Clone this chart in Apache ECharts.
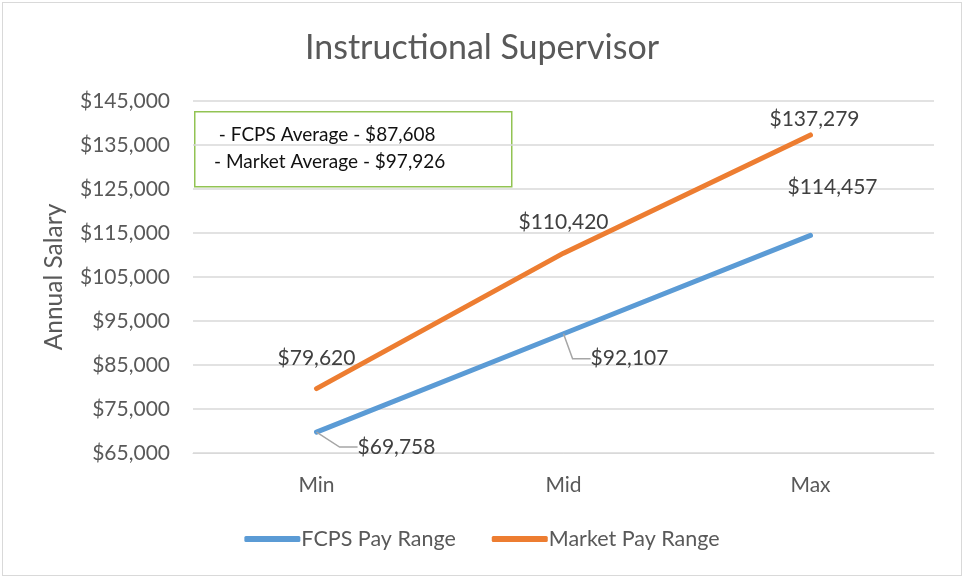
<!DOCTYPE html>
<html>
<head>
<meta charset="utf-8">
<script src="https://cdn.jsdelivr.net/npm/echarts@6/dist/echarts.min.js"></script>
<style>
  html, body { margin: 0; padding: 0; background: #fff; }
  #chart { position: absolute; left: 2px; top: 2px; width: 958px; height: 572px; border: 1px solid #d9d9d9; }
</style>
</head>
<body>
<div id="chart"></div>
<script>
const categories = ['Min', 'Mid', 'Max']
const fcpsValues = [69758, 92107, 114457]
const marketValues = [79620, 110420, 137279]
const fcpsAverage = 87608
const marketAverage = 97926

const blue = '#5B9BD5'
const orange = '#ED7D31'
const grey = '#595959'
const font = 'Lato, "Open Sans", sans-serif'

const money = v => '$' + v.toLocaleString('en-US')

// label nudges in px (dx, dy from the point)
const fcpsLabelShift = [[80, 15], [66, 25], [22, -48]]
const marketLabelShift = [[0, -30], [0, -31], [4, -16]]
// which fcps labels get a leader line
const fcpsLeader = [true, true, false]

const chart = echarts.init(document.getElementById('chart'))
chart.setOption({
  animation: false,
  textStyle: { fontFamily: font, color: grey },
  title: {
    text: 'Instructional Supervisor',
    left: 'center',
    top: 23,
    textStyle: { fontFamily: font, fontSize: 34, fontWeight: 'normal', color: grey },
  },
  grid: { left: 190, right: 27, top: 98, bottom: 122 },
  legend: {
    bottom: 20,
    left: 'center',
    icon: 'roundRect',
    itemWidth: 56,
    itemHeight: 6,
    itemGap: 36,
    textStyle: { fontFamily: font, fontSize: 21.5, color: grey, padding: [0, 0, 0, -4] },
    data: ['FCPS Pay Range', 'Market Pay Range'],
  },
  xAxis: {
    type: 'category',
    data: categories,
    axisLine: { lineStyle: { color: '#d9d9d9' } },
    axisTick: { show: false },
    axisLabel: { fontSize: 21, color: grey, margin: 22, fontFamily: font },
  },
  yAxis: {
    type: 'value',
    name: 'Annual Salary',
    nameLocation: 'middle',
    nameGap: 126,
    nameTextStyle: { fontSize: 24.5, color: grey, fontFamily: font },
    min: 65000,
    max: 145000,
    interval: 10000,
    axisLine: { show: false },
    axisTick: { show: false },
    splitLine: { lineStyle: { color: '#d9d9d9', width: 1.5 } },
    axisLabel: { fontSize: 21, color: grey, margin: 23, fontFamily: font, formatter: money },
  },
  graphic: [
    {
      type: 'rect',
      left: 191,
      top: 108,
      shape: { width: 317, height: 75 },
      style: { fill: '#fff', stroke: '#92C353', lineWidth: 1.5 },
    },
    {
      type: 'text',
      left: 211,
      top: 118,
      style: {
        text: ' - FCPS Average - ' + money(fcpsAverage) + '\n- Market Average - ' + money(marketAverage),
        font: '19px ' + font,
        fill: '#111',
        lineHeight: 27,
      },
    },
  ],
  series: [
    {
      name: 'FCPS Pay Range',
      type: 'line',
      data: fcpsValues.map((v, i) => ({ value: v, labelLine: { show: fcpsLeader[i] } })),
      symbol: 'circle',
      symbolSize: 0.1,
      showSymbol: true,
      lineStyle: { width: 5, color: blue, cap: 'round' },
      itemStyle: { color: blue },
      label: { show: true, position: 'inside', formatter: p => money(p.value), fontSize: 21, color: '#404040', fontFamily: font },
      labelLine: { show: true, length2: 18, lineStyle: { color: '#a6a6a6', width: 1.5 } },
      labelLayout: p => ({ dx: fcpsLabelShift[p.dataIndex][0], dy: fcpsLabelShift[p.dataIndex][1] }),
    },
    {
      name: 'Market Pay Range',
      type: 'line',
      data: marketValues,
      symbol: 'circle',
      symbolSize: 0.1,
      showSymbol: true,
      lineStyle: { width: 5, color: orange, cap: 'round' },
      itemStyle: { color: orange },
      label: { show: true, position: 'inside', formatter: p => money(p.value), fontSize: 21, color: '#404040', fontFamily: font },
      labelLayout: p => ({ dx: marketLabelShift[p.dataIndex][0], dy: marketLabelShift[p.dataIndex][1] }),
    },
  ],
})
</script>
</body>
</html>
